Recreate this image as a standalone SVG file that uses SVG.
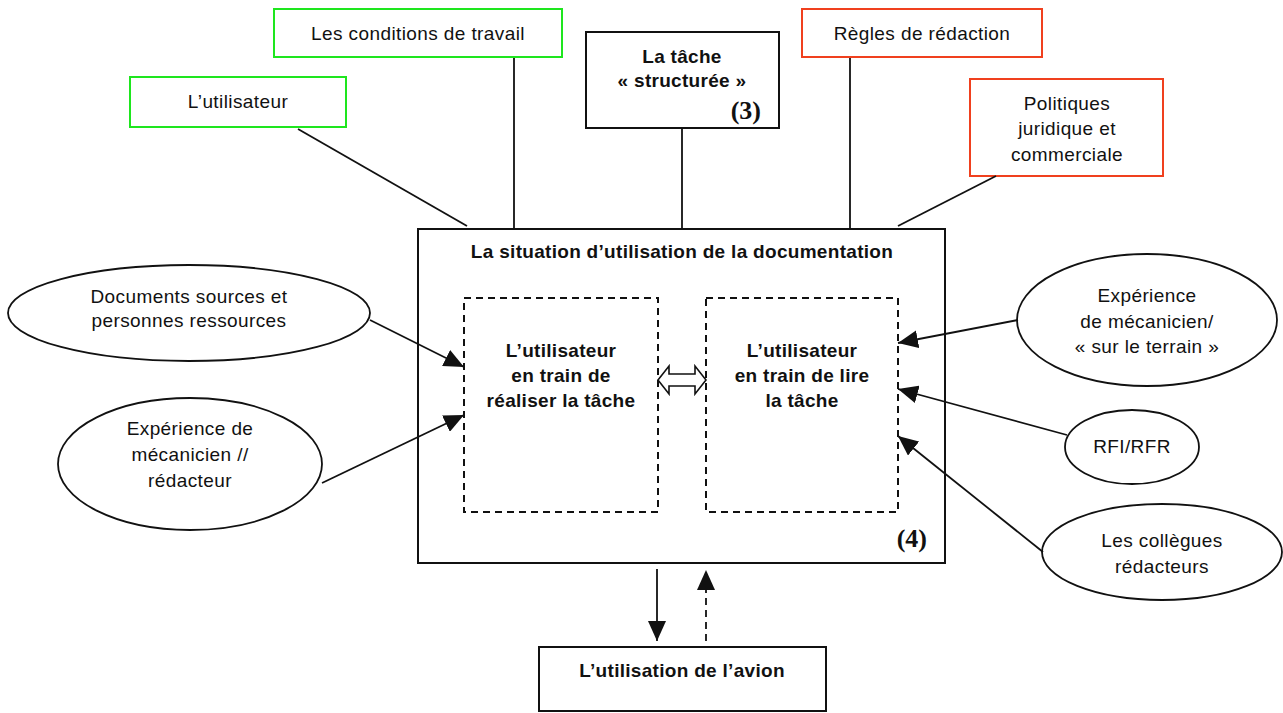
<svg xmlns="http://www.w3.org/2000/svg" width="1283" height="713" viewBox="0 0 1283 713">
<defs>
<style>
text{font-family:"Liberation Sans",Arial,sans-serif;font-size:19px;letter-spacing:0.4px;fill:#111;text-anchor:middle}
.b{font-weight:bold;font-size:19px;letter-spacing:0.3px}
.num{font-family:"Liberation Serif",serif;font-weight:bold;font-size:26px;letter-spacing:0;text-anchor:end}
.box{fill:#fff;stroke:#111;stroke-width:2}
.green{fill:#fff;stroke:#1ee61e;stroke-width:2}
.red{fill:#fff;stroke:#f0401e;stroke-width:2}
.dash{fill:none;stroke:#111;stroke-width:2;stroke-dasharray:7,5}
.ell{fill:#fff;stroke:#111;stroke-width:1.8}
.ln{stroke:#111;stroke-width:1.8;fill:none}
</style>
<marker id="ah" markerUnits="userSpaceOnUse" markerWidth="20" markerHeight="18" viewBox="0 0 20 18" refX="20" refY="9" orient="auto">
<path d="M0,0 L20,9 L0,18 Z" fill="#111"/>
</marker>
</defs>
<rect width="1283" height="713" fill="#fff"/>

<g id="n-utilisateur">
<rect class="green" x="130" y="77" width="216" height="50"/>
<text x="238" y="108">L’utilisateur</text>
</g>
<g id="n-conditions">
<rect class="green" x="274" y="9" width="288" height="48"/>
<text x="418" y="40">Les conditions de travail</text>
</g>
<g id="n-tache">
<rect class="box" x="586" y="32" width="193" height="96"/>
<text class="b" x="682" y="63">La tâche</text>
<text class="b" x="682" y="87">« structurée »</text>
<text class="num" x="761" y="119">(3)</text>
</g>
<g id="n-regles">
<rect class="red" x="802" y="9" width="240" height="48"/>
<text x="922" y="40">Règles de rédaction</text>
</g>
<g id="n-politiques">
<rect class="red" x="970" y="79" width="193" height="97"/>
<text x="1067" y="110">Politiques</text>
<text x="1067" y="135">juridique et</text>
<text x="1067" y="161">commerciale</text>
</g>

<g id="n-situation">
<rect class="box" x="418" y="229" width="527" height="334"/>
<text class="b" x="682" y="258">La situation d’utilisation de la documentation</text>
<text class="num" x="927" y="547">(4)</text>
</g>
<g id="n-realiser">
<rect class="dash" x="464" y="298" width="194" height="214"/>
<text class="b" x="561" y="357">L’utilisateur</text>
<text class="b" x="561" y="382">en train de</text>
<text class="b" x="561" y="407">réaliser la tâche</text>
</g>
<g id="n-lire">
<rect class="dash" x="706" y="298" width="192" height="214"/>
<text class="b" x="802" y="357">L’utilisateur</text>
<text class="b" x="802" y="382">en train de lire</text>
<text class="b" x="802" y="407">la tâche</text>
</g>

<g id="n-avion">
<rect class="box" x="539" y="647" width="287" height="64"/>
<text class="b" x="682" y="677">L’utilisation de l’avion</text>
</g>

<g id="n-documents">
<ellipse class="ell" cx="189" cy="313" rx="181" ry="48"/>
<text x="189" y="303">Documents sources et</text>
<text x="189" y="327">personnes ressources</text>
</g>
<g id="n-exp-redacteur">
<ellipse class="ell" cx="190" cy="464" rx="132" ry="66"/>
<text x="190" y="435">Expérience de</text>
<text x="190" y="461">mécanicien //</text>
<text x="190" y="487">rédacteur</text>
</g>
<g id="n-exp-terrain">
<ellipse class="ell" cx="1147" cy="320" rx="130" ry="66"/>
<text x="1147" y="302">Expérience</text>
<text x="1147" y="328">de mécanicien/</text>
<text x="1147" y="353">« sur le terrain »</text>
</g>
<g id="n-rfi">
<ellipse class="ell" cx="1132" cy="447" rx="67" ry="37"/>
<text x="1132" y="453">RFI/RFR</text>
</g>
<g id="n-collegues">
<ellipse class="ell" cx="1162" cy="552" rx="120" ry="48"/>
<text x="1162" y="547">Les collègues</text>
<text x="1162" y="573">rédacteurs</text>
</g>

<g id="connectors">
<line class="ln" x1="298" y1="129" x2="467" y2="226"/>
<line class="ln" x1="514" y1="58" x2="514" y2="229"/>
<line class="ln" x1="682" y1="128" x2="682" y2="229"/>
<line class="ln" x1="850" y1="58" x2="850" y2="229"/>
<line class="ln" x1="996" y1="176" x2="898" y2="226"/>
<line class="ln" x1="370" y1="320" x2="464" y2="367" marker-end="url(#ah)"/>
<line class="ln" x1="322" y1="483" x2="464" y2="415" marker-end="url(#ah)"/>
<line class="ln" x1="1018" y1="320" x2="898" y2="343" marker-end="url(#ah)"/>
<line class="ln" x1="1067" y1="435" x2="898" y2="389" marker-end="url(#ah)"/>
<line class="ln" x1="1043" y1="552" x2="898" y2="436" marker-end="url(#ah)"/>
<line class="ln" x1="657" y1="569" x2="657" y2="641" marker-end="url(#ah)"/>
<line class="ln" x1="706" y1="641" x2="706" y2="570" stroke-dasharray="7,5" marker-end="url(#ah)"/>
<path d="M658,380 L669,366 L669,374 L695,374 L695,366 L706,380 L695,394 L695,386 L669,386 L669,394 Z" fill="#fff" stroke="#111" stroke-width="1.6"/>
</g>
</svg>
